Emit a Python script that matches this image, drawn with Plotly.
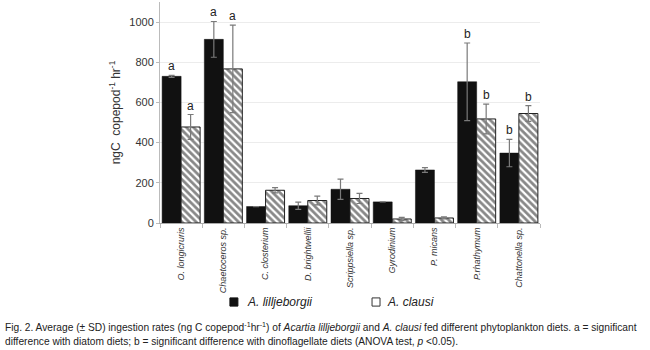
import plotly.graph_objects as go

categories = ["O. longicruris", "Chaetoceros sp.", "C. closterium", "D. brightwellii",
              "Scrippsiella sp.", "Gyrodinium", "P. micans", "P.rhathymum", "Chattonella sp."]
lill_mean = [730, 914, 82, 86, 168, 105, 264, 703, 348]
lill_sd = [5, 89, 0, 18, 50, 0, 12, 193, 68]
clausi_mean = [478, 767, 163, 112, 122, 20, 25, 518, 545]
clausi_sd = [62, 218, 13, 22, 25, 8, 5, 74, 39]
lill_sig = ["a", "a", "", "", "", "", "", "b", "b"]
clausi_sig = ["a", "a", "", "", "", "", "", "b", "b"]
y_ticks = [0, 200, 400, 600, 800, 1000]

FONT = "Liberation Sans, Arial, sans-serif"

fig = go.Figure()
fig.add_trace(go.Bar(
    x=categories, y=lill_mean, name="A. lilljeborgii", showlegend=False,
    marker=dict(color="#111111", line=dict(color="#111111", width=0.5)),
    error_y=dict(type="data", array=lill_sd, color="#7a7a7a", thickness=1.2, width=3),
))
fig.add_trace(go.Bar(
    x=categories, y=clausi_mean, name="A. clausi", showlegend=False,
    marker=dict(color="white", line=dict(color="#222222", width=1),
                pattern=dict(shape="\\", fgcolor="#111111", bgcolor="white", size=5, solidity=0.55)),
    error_y=dict(type="data", array=clausi_sd, color="#7a7a7a", thickness=1.2, width=3),
))

annotations = []
for cat, m, s, t in zip(categories, lill_mean, lill_sd, lill_sig):
    if t:
        annotations.append(dict(x=cat, y=m + s, text=t, showarrow=False, xshift=-9.5,
                                yanchor="bottom", font=dict(family=FONT, size=12, color="#222")))
for cat, m, s, t in zip(categories, clausi_mean, clausi_sd, clausi_sig):
    if t:
        annotations.append(dict(x=cat, y=m + s, text=t, showarrow=False, xshift=9.5,
                                yanchor="bottom", font=dict(family=FONT, size=12, color="#222")))

# legend (drawn manually to match the reference layout)
annotations.append(dict(xref="paper", yref="paper", x=0.224, y=-0.357, xanchor="left", yanchor="middle",
                        text="<i>A. lilljeborgii</i>", showarrow=False,
                        font=dict(family=FONT, size=12, color="#222")))
annotations.append(dict(xref="paper", yref="paper", x=0.592, y=-0.357, xanchor="left", yanchor="middle",
                        text="<i>A. clausi</i>", showarrow=False,
                        font=dict(family=FONT, size=12, color="#222")))
shapes = [
    dict(type="rect", xref="paper", yref="paper", x0=0.184, x1=0.205, y0=-0.376, y1=-0.339,
         fillcolor="#111111", line=dict(color="#111111", width=1)),
    dict(type="rect", xref="paper", yref="paper", x0=0.558, x1=0.579, y0=-0.376, y1=-0.339,
         fillcolor="white", line=dict(color="#333333", width=1)),
]

annotations.append(dict(
    xref="paper", yref="paper", x=-0.413, y=-0.435, xanchor="left", yanchor="top", align="left",
    showarrow=False,
    text=("Fig. 2. Average (± SD) ingestion rates (ng C copepod<sup>-1</sup>hr<sup>-1</sup>) of "
          "<i>Acartia lilljeborgii</i> and <i>A. clausi</i> fed different phytoplankton diets. a = significant<br>"
          "difference with diatom diets; b = significant difference with dinoflagellate diets "
          "(ANOVA test, <i>p</i> &lt;0.05)."),
    font=dict(family=FONT, size=10.2, color="#222"),
))

fig.update_layout(
    width=650, height=350,
    margin=dict(l=160, r=110, t=2, b=127),
    paper_bgcolor="white", plot_bgcolor="white",
    barmode="group", bargap=0.1, bargroupgap=0,
    font=dict(family=FONT, color="#333"),
    annotations=annotations, shapes=shapes,
    showlegend=False,
)
fig.update_xaxes(
    type="category", tickangle=-90, tickson="boundaries", ticks="outside", ticklen=4,
    tickcolor="#bbbbbb", showline=True, linecolor="#aaaaaa", linewidth=1, automargin=False,
    tickfont=dict(family=FONT, size=9, style="italic", color="#333"), showgrid=False,
)
fig.update_yaxes(
    range=[0, 1100], tickvals=y_ticks, ticks="outside", ticklen=3, tickcolor="#bbbbbb",
    showline=True, linecolor="#bbbbbb", linewidth=1, automargin=False,
    showgrid=True, gridcolor="#ececec", gridwidth=1, zeroline=False,
    tickfont=dict(family=FONT, size=11, color="#333"),
    title=dict(text="ngC  copepod<sup>-1</sup> hr<sup>-1</sup>", standoff=6,
               font=dict(family=FONT, size=12, color="#333")),
)

fig.write_html("out.html", config={"displayModeBar": False},
               post_script="document.body.style.margin='0';document.body.style.overflow='hidden';")
